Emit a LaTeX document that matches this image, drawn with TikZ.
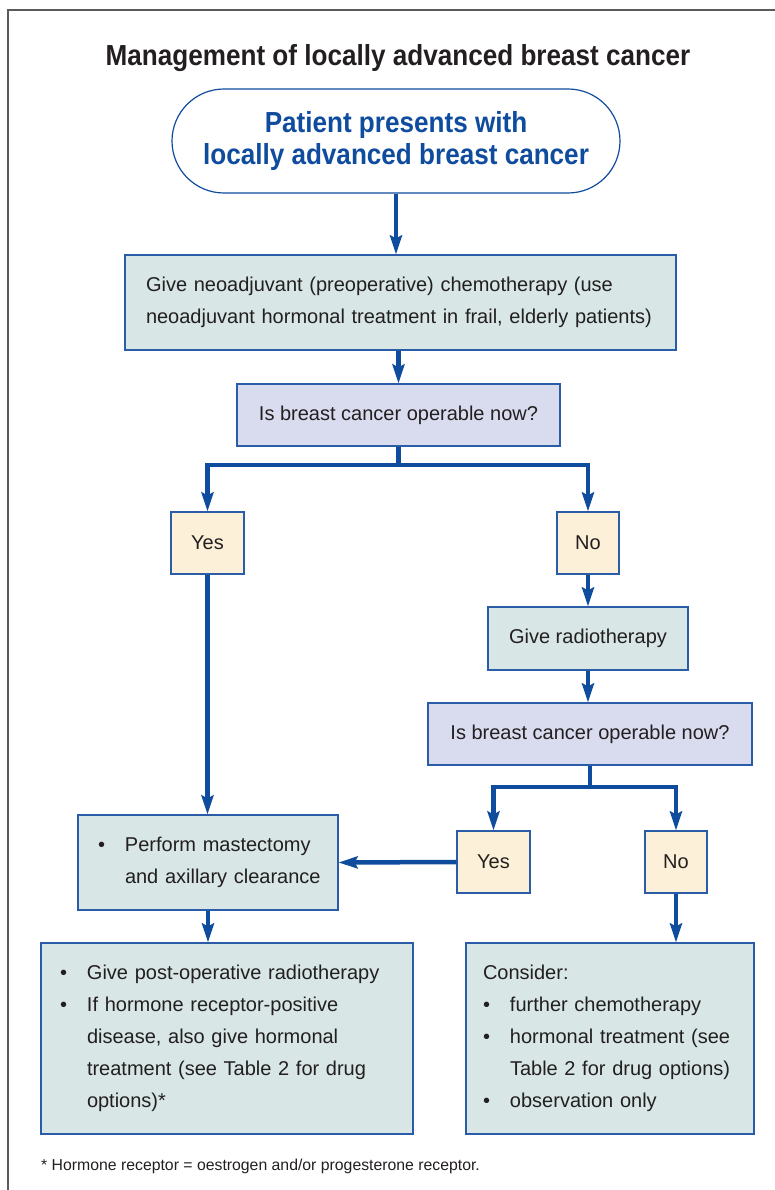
\documentclass[tikz,border=0pt]{standalone}
\usepackage{fontspec}
\setmainfont{Liberation Sans}
\newfontfamily\condfont[FakeStretch=0.9]{Liberation Sans Bold}
\usetikzlibrary{arrows.meta}
\definecolor{bblue}{HTML}{0F4C9E}
\definecolor{edge}{HTML}{2A5CA8}
\definecolor{ink}{HTML}{231F20}
\definecolor{teal}{HTML}{D8E6E6}
\definecolor{lav}{HTML}{D9DCEF}
\definecolor{cream}{HTML}{FCF0D8}
\definecolor{frame}{HTML}{5A5A5A}
\newcommand\bodyfont{\fontsize{20}{32}\selectfont}
\newcommand\bul{\makebox[27pt][l]{\textbullet}}
\newcommand\ind{\hspace*{27pt}}
\newcommand\oneline[1]{\mbox{#1}}
\tikzset{
  box/.style={draw=edge, line width=1.2pt, text=ink, font=\bodyfont, inner ysep=0pt},
  actbox/.style={box, fill=teal},
  qbox/.style={box, fill=lav, align=center},
  ansbox/.style={box, fill=cream, align=center},
  conn/.style={draw=bblue, line width=4.5pt},
  arr/.style={conn, -{Stealth[length=19pt,width=12pt,inset=3pt]}},
}
\begin{document}
\begin{tikzpicture}[x=1pt,y=-1pt]
\useasboundingbox (0,0) rectangle (775,1190);
\draw[frame, line width=2pt] (8,1190) -- (8,10) -- (775,10);

\node[text=ink, font=\condfont\fontsize{29}{32}\selectfont, anchor=base] (title) at (398,66) {Management of locally advanced breast cancer};

\node[draw=bblue, line width=1.2pt, rounded corners=52pt, fill=white, minimum width=448pt, minimum height=104pt,
      text=bblue, align=center, font=\condfont\fontsize{29}{32}\selectfont] (start) at (396,141)
  {Patient presents with\\locally advanced breast cancer};

\node[actbox, minimum width=551pt, minimum height=95pt, text width=509pt, inner xsep=21pt, align=left] (neo) at (400.5,302.5)
  {\oneline{Give neoadjuvant (preoperative) chemotherapy (use}\\\oneline{neoadjuvant hormonal treatment in frail, elderly patients)}};

\node[qbox, minimum width=323pt, minimum height=62pt] (q1) at (398.5,415) {Is breast cancer operable now?};

\node[ansbox, minimum width=73pt, minimum height=62pt] (yes1) at (207.5,543) {Yes};
\node[ansbox, minimum width=62pt, minimum height=62pt] (no1) at (588,543) {No};

\node[actbox, minimum width=200pt, minimum height=63pt, align=center] (radio) at (588,638.5) {Give radiotherapy};

\node[qbox, minimum width=324pt, minimum height=62pt] (q2) at (590,734) {Is breast cancer operable now?};

\node[ansbox, minimum width=73pt, minimum height=62pt] (yes2) at (493.5,862) {Yes};
\node[ansbox, minimum width=62pt, minimum height=62pt] (no2) at (676,862) {No};

\node[actbox, minimum width=260pt, minimum height=95pt, text width=220pt, inner xsep=20pt, align=left] (mast) at (208,862.5)
  {\oneline{\bul Perform mastectomy}\\\oneline{\ind and axillary clearance}};

\node[actbox, minimum width=372pt, minimum height=191pt, text width=334pt, inner xsep=19pt, align=left] (post) at (227,1038.5)
  {\oneline{\bul Give post-operative radiotherapy}\\
   \oneline{\bul If hormone receptor-positive}\\
   \oneline{\ind disease, also give hormonal}\\
   \oneline{\ind treatment (see Table 2 for drug}\\
   \oneline{\ind options)*}};

\node[actbox, minimum width=288pt, minimum height=191pt, text width=254pt, inner xsep=17pt, align=left] (cons) at (610,1038.5)
  {\oneline{Consider:}\\
   \oneline{\bul further chemotherapy}\\
   \oneline{\bul hormonal treatment (see}\\
   \oneline{\ind Table 2 for drug options)}\\
   \oneline{\bul observation only}};

\node[text=ink, font=\fontsize{15.8}{18}\selectfont, anchor=base west, inner sep=0pt] (foot) at (41,1170)
  {* Hormone receptor = oestrogen and/or progesterone receptor.};

% connectors
\draw[arr] (start.south) -- (start.south |- neo.north);
\draw[arr] (neo.south -| q1.south) -- (q1.north);
\coordinate (j1) at (398.5,465);
\draw[arr] (q1.south) -- (j1) -| (yes1.north);
\draw[arr] (q1.south) -- (j1) -| (no1.north);
\draw[arr] (no1.south) -- (radio.north);
\draw[arr] (radio.south) -- (radio.south |- q2.north);
\coordinate (j2) at (590,787);
\draw[arr] (q2.south) -- (j2) -| (yes2.north);
\draw[arr] (q2.south) -- (j2) -| (no2.north);
\draw[arr] (yes1.south) -- (yes1.south |- mast.north);
\draw[arr] (yes2.west) -- (mast.east);
\draw[arr] (mast.south) -- (mast.south |- post.north);
\draw[arr] (no2.south) -- (no2.south |- cons.north);
\end{tikzpicture}
\end{document}
